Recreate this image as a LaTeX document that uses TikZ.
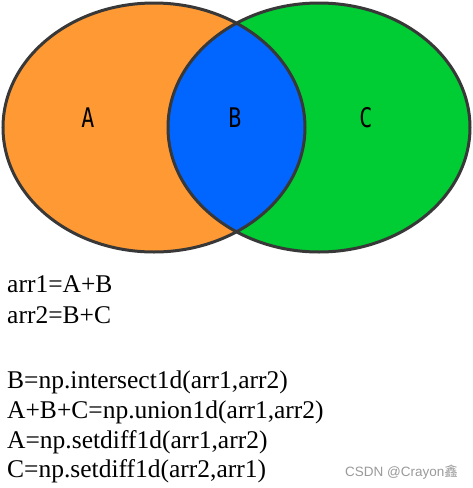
\documentclass[tikz,border=0pt]{standalone}
\usepackage{fontspec}
\setmainfont{Liberation Serif}
\newfontfamily\labfont{DejaVu Sans Mono}
\newfontfamily\wmfont{Liberation Sans}
\newfontfamily\cjk{Noto Sans CJK SC}
\definecolor{orangeA}{HTML}{FF9933}
\definecolor{greenC}{HTML}{00CC33}
\definecolor{blueB}{HTML}{0066FF}
\definecolor{edge}{HTML}{383838}
\definecolor{wmgray}{HTML}{9A9A9A}
\begin{document}
\begin{tikzpicture}[x=1pt,y=-1pt,
  setlabel/.style={font=\labfont\fontsize{27}{27}\selectfont, xscale=0.8, transform shape, inner sep=0pt},
  codeline/.style={anchor=base west, inner sep=0pt, font=\fontsize{25.5}{25.5}\selectfont},
  outline/.style={draw=edge, line width=3pt}]
\useasboundingbox (0,0) rectangle (473,488);
\fill[white] (0,0) rectangle (473,488);
\fill[orangeA] (154,127.5) ellipse [x radius=151, y radius=124.5];
\fill[greenC] (319,127.5) ellipse [x radius=151, y radius=124.5];
\begin{scope}
  \clip (154,127.5) ellipse [x radius=151, y radius=124.5];
  \fill[blueB] (319,127.5) ellipse [x radius=151, y radius=124.5];
\end{scope}
\draw[outline] (154,127.5) ellipse [x radius=151, y radius=124.5];
\draw[outline] (319,127.5) ellipse [x radius=151, y radius=124.5];
\node[setlabel] (lA) at (88,118) {A};
\node[setlabel] (lB) at (235,118) {B};
\node[setlabel] (lC) at (366,118) {C};
\node[codeline] (t1) at (7,292) {arr1=A+B};
\node[codeline] (t2) at (7,323) {arr2=B+C};
\node[codeline] (t3) at (7,388) {B=np.intersect1d(arr1,arr2)};
\node[codeline] (t4) at (7,418) {A+B+C=np.union1d(arr1,arr2)};
\node[codeline] (t5) at (7,448) {A=np.setdiff1d(arr1,arr2)};
\node[codeline] (t6) at (7,477) {C=np.setdiff1d(arr2,arr1)};
\node[anchor=base west, inner sep=0pt, text=wmgray, font=\wmfont\fontsize{13.5}{13.5}\selectfont] (wm) at (345,476) {CSDN @Crayon{\cjk 鑫}};
\end{tikzpicture}
\end{document}
